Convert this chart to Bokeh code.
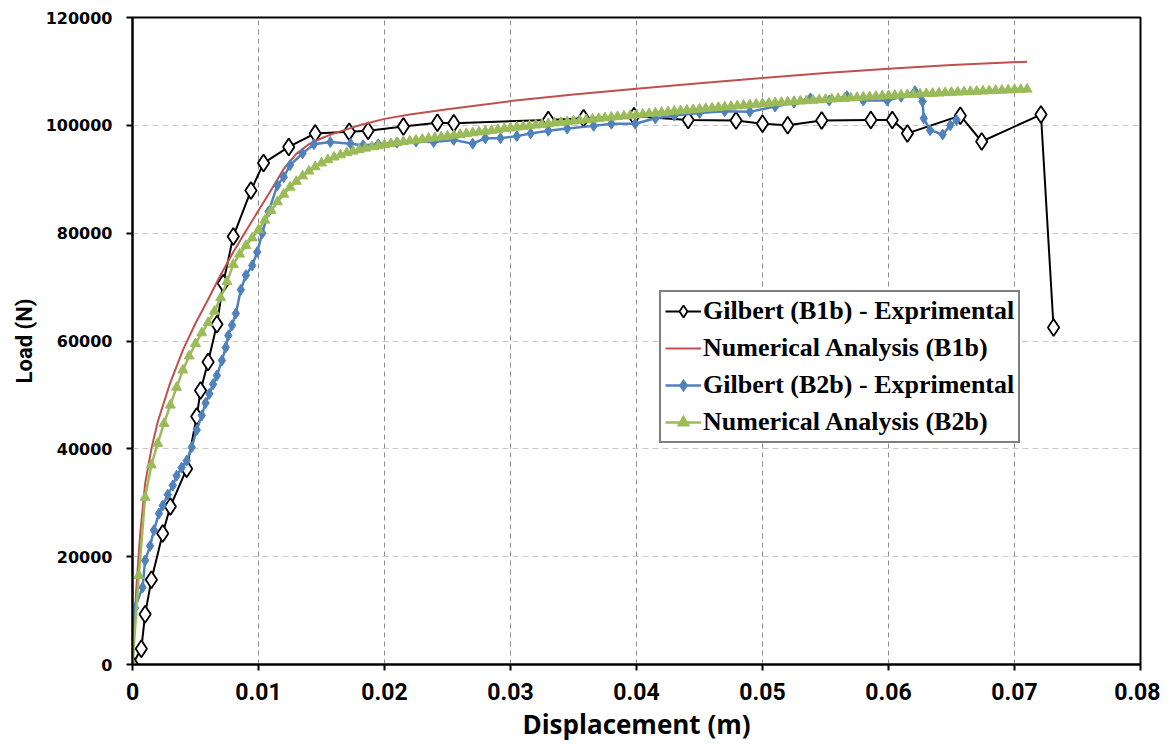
from bokeh.plotting import figure
from bokeh.models import Range1d, FixedTicker, CustomJSTickFormatter, Legend, LegendItem
from bokeh.embed import file_html
from bokeh.resources import INLINE

# ---------------- data ----------------
x_ticks = [0, 0.01, 0.02, 0.03, 0.04, 0.05, 0.06, 0.07, 0.08]
y_ticks = [0, 20000, 40000, 60000, 80000, 100000, 120000]

# Gilbert (B1b) - Exprimental
b1_exp_x = [0, 0.0007, 0.0010, 0.0015, 0.0024, 0.0030, 0.0043, 0.0051, 0.0054, 0.0060,
            0.0067, 0.0072, 0.0080, 0.0094, 0.0104, 0.0124, 0.0145, 0.0172, 0.0187, 0.0215,
            0.0242, 0.0255, 0.0330, 0.0358, 0.0398, 0.0441, 0.0479, 0.0500, 0.0520, 0.0547,
            0.0586, 0.0603, 0.0615, 0.0657, 0.0674, 0.0721, 0.0731]
b1_exp_y = [0, 2900, 9300, 15700, 24300, 29300, 36300, 46000, 50800, 56100,
            63100, 70700, 79400, 87900, 93000, 96000, 98500, 98800, 99000, 99800,
            100500, 100400, 101000, 101300, 101700, 101000, 100900, 100300, 100000, 100900,
            101000, 101000, 98500, 101800, 97000, 102000, 62500]

# Numerical Analysis (B1b)
b1_num_x = [0, 0.0003, 0.0006, 0.0010, 0.0015, 0.0020, 0.0030, 0.0040, 0.0050, 0.0060,
            0.0070, 0.0080, 0.0090, 0.0100, 0.0110, 0.0120, 0.0130, 0.0140, 0.0150, 0.0160,
            0.0180, 0.0200, 0.0220, 0.0250, 0.0300, 0.0350, 0.0400, 0.0450, 0.0500, 0.0550,
            0.0600, 0.0650, 0.0710]
b1_num_y = [0, 14000, 24000, 33500, 40000, 45000, 52300, 58300, 63300, 67700,
            72300, 76500, 80400, 84200, 88000, 91900, 94700, 96500, 97600, 98500,
            100000, 101200, 102000, 103000, 104500, 105700, 106800, 107800, 108800, 109700,
            110500, 111200, 111800]

# Gilbert (B2b) - Exprimental
b2_exp_x = [0, 0.0002, 0.0008, 0.0010, 0.0014, 0.0017, 0.0021, 0.0024, 0.0028, 0.0032,
            0.0035, 0.0039, 0.0043, 0.0047, 0.0051, 0.0055, 0.0058, 0.0061, 0.0064, 0.0067,
            0.0071, 0.0074, 0.0076, 0.0079, 0.0082, 0.0086, 0.0090, 0.0095, 0.0099, 0.0103,
            0.0108, 0.0115, 0.0120, 0.0125, 0.0135, 0.0144, 0.0157, 0.0173, 0.0183, 0.0195,
            0.0210, 0.0225, 0.0239, 0.0255, 0.0270, 0.0280, 0.0292, 0.0305, 0.0316, 0.0330,
            0.0345, 0.0366, 0.0380, 0.0399, 0.0415, 0.0430, 0.0450, 0.0470, 0.0490, 0.0510,
            0.0525, 0.0538, 0.0553, 0.0567, 0.0580, 0.0599, 0.0610, 0.0621, 0.0627, 0.0628,
            0.0633, 0.0643, 0.0649, 0.0654]
b2_exp_y = [0, 10500, 14300, 19300, 22000, 24900, 28000, 29500, 31500, 33200,
            35000, 36500, 37800, 40300, 43500, 46200, 48500, 50200, 52000, 53600,
            56400, 58800, 61000, 62900, 65100, 69500, 72200, 74000, 76500, 80000,
            84000, 88900, 90400, 92600, 94800, 96500, 96900, 96600, 96300, 96500,
            96800, 97000, 96900, 97300, 96600, 97600, 97600, 98000, 98500, 99000,
            99400, 99900, 100300, 100300, 101300, 101800, 102300, 102600, 102500, 103500,
            104200, 105000, 104600, 105400, 104600, 104600, 105300, 106300, 104400, 101300,
            99100, 98300, 100000, 101000]

# Numerical Analysis (B2b)
b2_num_x = [0.0000, 0.0005, 0.0010, 0.0015, 0.0020, 0.0025, 0.0030, 0.0035, 0.0040, 0.0045,
            0.0050, 0.0055, 0.0060, 0.0065, 0.0070, 0.0075, 0.0080, 0.0085, 0.0090, 0.0095,
            0.0100, 0.0105, 0.0110, 0.0115, 0.0120, 0.0125, 0.0130, 0.0135, 0.0140, 0.0145,
            0.0150, 0.0155, 0.0160, 0.0165, 0.0170, 0.0175, 0.0180, 0.0185, 0.0190, 0.0195,
            0.0200, 0.0205, 0.0210, 0.0215, 0.0220, 0.0225, 0.0230, 0.0235, 0.0240, 0.0245,
            0.0250, 0.0255, 0.0260, 0.0265, 0.0270, 0.0275, 0.0280, 0.0285, 0.0290, 0.0295,
            0.0300, 0.0305, 0.0310, 0.0315, 0.0320, 0.0325, 0.0330, 0.0335, 0.0340, 0.0345,
            0.0350, 0.0355, 0.0360, 0.0365, 0.0370, 0.0375, 0.0380, 0.0385, 0.0390, 0.0395,
            0.0400, 0.0405, 0.0410, 0.0415, 0.0420, 0.0425, 0.0430, 0.0435, 0.0440, 0.0445,
            0.0450, 0.0455, 0.0460, 0.0465, 0.0470, 0.0475, 0.0480, 0.0485, 0.0490, 0.0495,
            0.0500, 0.0505, 0.0510, 0.0515, 0.0520, 0.0525, 0.0530, 0.0535, 0.0540, 0.0545,
            0.0550, 0.0555, 0.0560, 0.0565, 0.0570, 0.0575, 0.0580, 0.0585, 0.0590, 0.0595,
            0.0600, 0.0605, 0.0610, 0.0615, 0.0620, 0.0625, 0.0630, 0.0635, 0.0640, 0.0645,
            0.0650, 0.0655, 0.0660, 0.0665, 0.0670, 0.0675, 0.0680, 0.0685, 0.0690, 0.0695,
            0.0700, 0.0705, 0.0710]
b2_num_y = [0, 16500, 31000, 37000, 41000, 44700, 48100, 51400, 54600, 57200,
            59500, 61500, 63400, 65500, 68000, 71000, 74200, 76100, 77700, 79100,
            80600, 82400, 84200, 85800, 87200, 88500, 89600, 90600, 91500, 92300,
            93000, 93600, 94100, 94500, 94900, 95200, 95500, 95750, 96000, 96200,
            96400, 96600, 96800, 96950, 97100, 97250, 97400, 97550, 97700, 97850,
            98000, 98150, 98300, 98450, 98600, 98750, 98900, 99050, 99200, 99350,
            99500, 99650, 99780, 99900, 100030, 100160, 100290, 100420, 100540, 100660,
            100780, 100900, 101020, 101140, 101260, 101380, 101500, 101610, 101720, 101830,
            101940, 102050, 102160, 102270, 102380, 102490, 102600, 102700, 102800, 102900,
            103000, 103100, 103200, 103300, 103400, 103500, 103600, 103700, 103800, 103900,
            104000, 104080, 104160, 104240, 104320, 104400, 104480, 104560, 104640, 104720,
            104800, 104870, 104940, 105010, 105080, 105150, 105220, 105290, 105360, 105430,
            105500, 105560, 105620, 105680, 105740, 105800, 105860, 105920, 105980, 106040,
            106100, 106150, 106200, 106250, 106300, 106350, 106400, 106450, 106500, 106550,
            106600, 106650, 106700]

labels = ["Gilbert (B1b) - Exprimental", "Numerical Analysis (B1b)",
          "Gilbert (B2b) - Exprimental", "Numerical Analysis (B2b)"]

# ---------------- figure ----------------
p = figure(frame_width=1008, frame_height=647,
           min_border_left=132, min_border_right=20, min_border_top=17, min_border_bottom=76,
           x_range=Range1d(0, 0.08), y_range=Range1d(0, 120000),
           output_backend="svg", toolbar_location=None)
p.background_fill_color = "white"
p.border_fill_color = "white"
p.outline_line_color = "black"
p.outline_line_width = 2

p.xaxis.ticker = FixedTicker(ticks=x_ticks)
p.yaxis.ticker = FixedTicker(ticks=y_ticks)
p.xaxis.formatter = CustomJSTickFormatter(code="return tick === 0 ? '0' : tick.toFixed(2);")
p.yaxis.formatter = CustomJSTickFormatter(code="return tick.toFixed(0);")

for ax in (p.xaxis, p.yaxis):
    ax.axis_line_color = "black"
    ax.axis_line_width = 2
    ax.major_tick_line_color = "black"
    ax.major_tick_line_width = 2
    ax.major_tick_out = 6
    ax.major_tick_in = 0
    ax.minor_tick_line_color = None
    ax.major_label_text_color = "black"
    ax.major_label_text_font_style = "bold"
    ax.axis_label_text_color = "black"
    ax.axis_label_text_font_style = "bold"

p.xaxis.major_label_text_font = "Roboto"
p.xaxis.major_label_text_font_size = "23px"
p.xaxis.major_label_standoff = 12
p.xaxis.axis_label = "Displacement (m)"
p.xaxis.axis_label_text_font = "Open Sans"
p.xaxis.axis_label_text_font_size = "26px"
p.xaxis.axis_label_standoff = 3

p.yaxis.major_label_text_font = "DejaVu Sans"
p.yaxis.major_label_text_font_size = "16px"
p.yaxis.major_label_standoff = 14
p.yaxis.axis_label = "Load (N)"
p.yaxis.axis_label_text_font = "Roboto"
p.yaxis.axis_label_text_font_size = "22px"
p.yaxis.axis_label_standoff = 6

p.xgrid.grid_line_color = "#8c8c8c"
p.xgrid.grid_line_dash = "5 4"
p.xgrid.grid_line_width = 1
p.ygrid.grid_line_color = "#c8c8c8"
p.ygrid.grid_line_dash = "6 4"
p.ygrid.grid_line_width = 1

# series
l1 = p.line(b1_exp_x, b1_exp_y, line_color="black", line_width=2)
m1 = p.scatter(b1_exp_x, b1_exp_y, marker="diamond", size=17, fill_color="white",
               line_color="black", line_width=1.8)
l2 = p.line(b1_num_x, b1_num_y, line_color="#C0504D", line_width=2)
l3 = p.line(b2_exp_x, b2_exp_y, line_color="#4F81BD", line_width=2.5)
m3 = p.scatter(b2_exp_x, b2_exp_y, marker="diamond", size=11, fill_color="#4F81BD",
               line_color="#4F81BD")
l4 = p.line(b2_num_x, b2_num_y, line_color="#9BBB59", line_width=2.5)
m4 = p.scatter(b2_num_x, b2_num_y, marker="triangle", size=10, fill_color="#9BBB59",
               line_color="#9BBB59")

legend = Legend(items=[
    LegendItem(label=labels[0], renderers=[l1, m1]),
    LegendItem(label=labels[1], renderers=[l2]),
    LegendItem(label=labels[2], renderers=[l3, m3]),
    LegendItem(label=labels[3], renderers=[l4, m4]),
], location=(527, 221))
legend.label_text_font = "Liberation Serif"
legend.label_text_font_style = "bold"
legend.label_text_font_size = "26px"
legend.label_text_color = "black"
legend.glyph_width = 36
legend.glyph_height = 30
legend.label_height = 30
legend.spacing = 7
legend.padding = 4
legend.margin = 0
legend.label_standoff = 2
legend.border_line_color = "black"
legend.border_line_width = 2
legend.background_fill_color = "white"
legend.background_fill_alpha = 1
p.add_layout(legend, "center")

open("out.html", "w").write(file_html(p, INLINE))
